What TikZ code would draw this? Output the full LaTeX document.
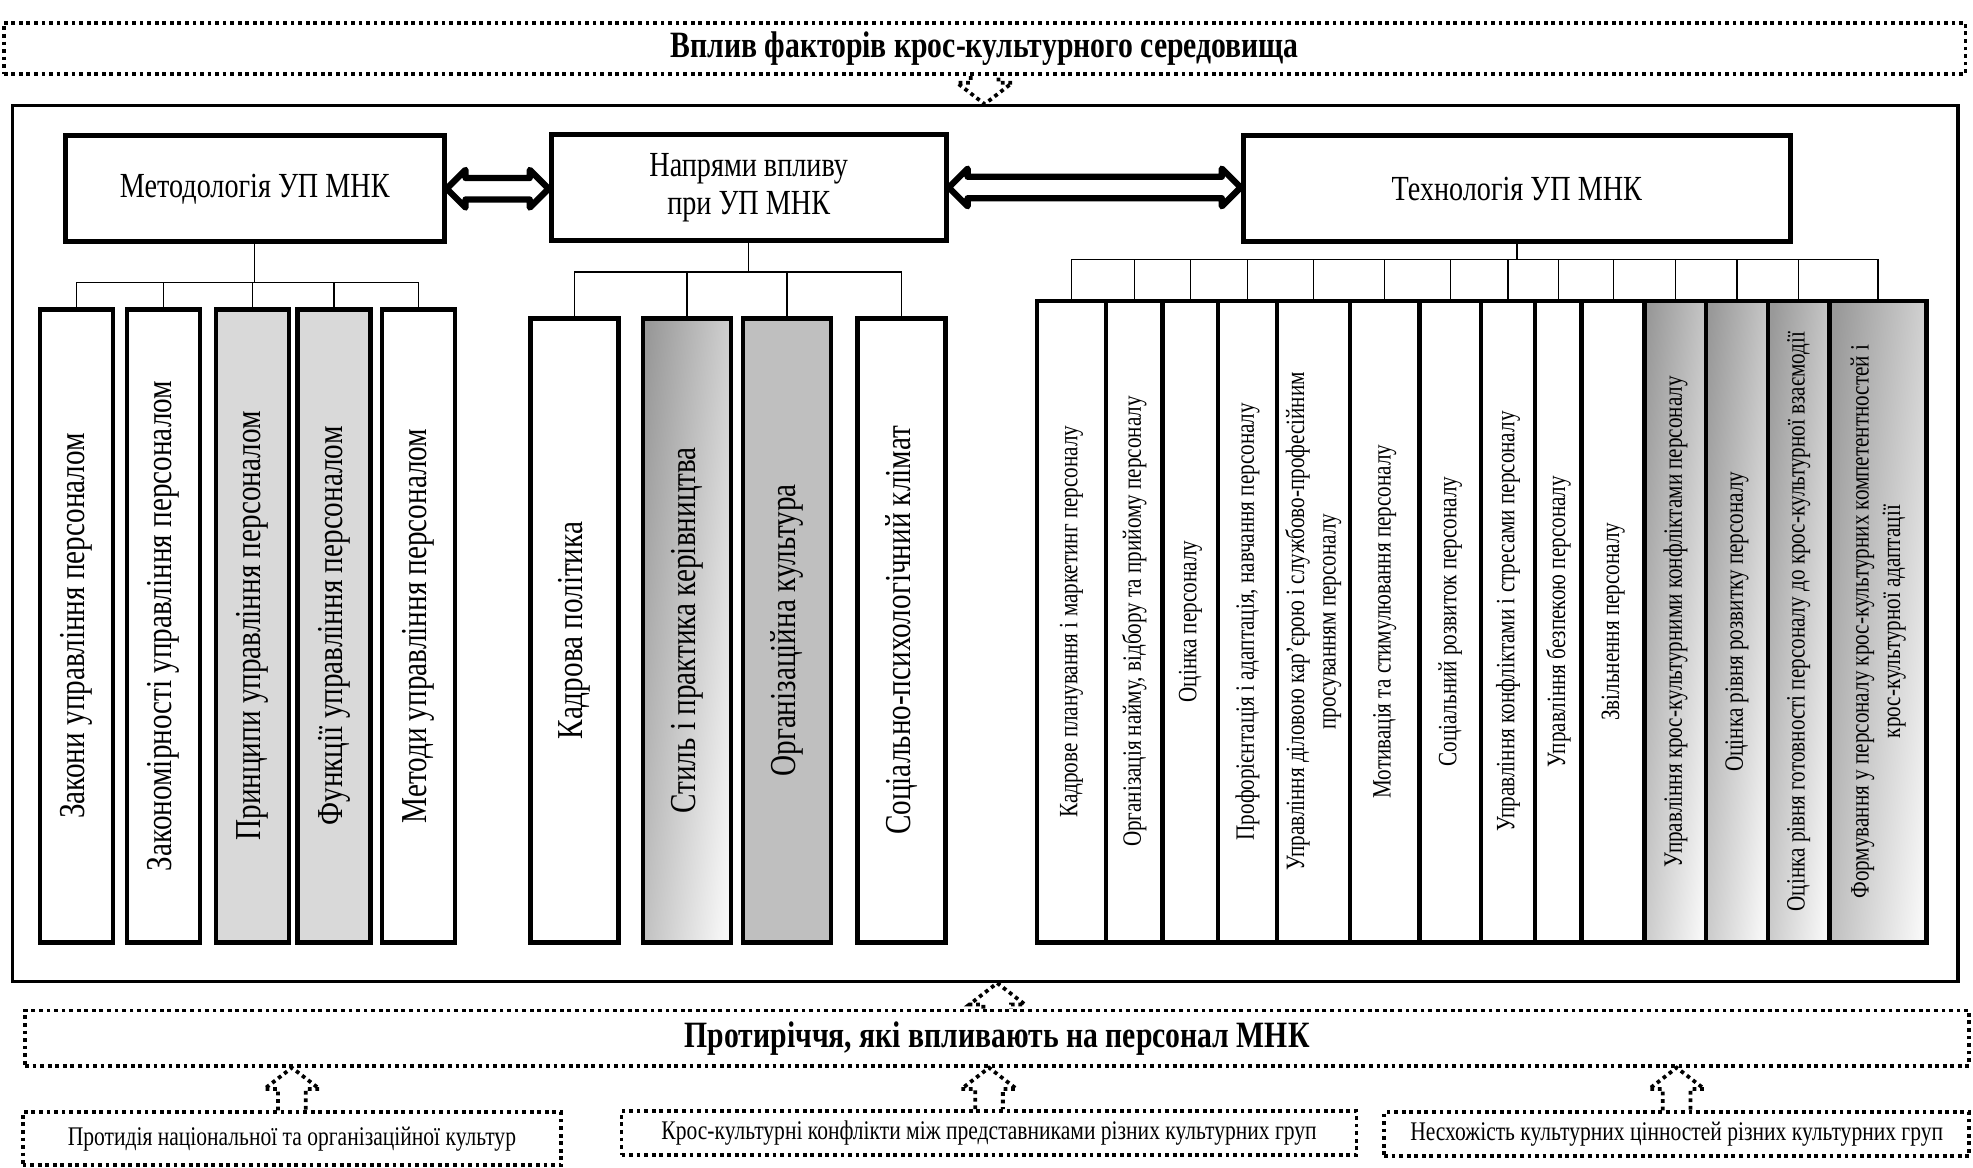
\documentclass[tikz,border=0pt]{standalone}
\usepackage{fontspec}
\setmainfont{Liberation Serif}[FakeStretch=0.8]
\usetikzlibrary{calc}

\tikzset{every picture/.style={line width=1pt}}
\tikzset{
  dotbox/.style={draw, line width=3pt, dash pattern=on 3pt off 3pt, inner sep=0pt},
  dotline/.style={line width=3pt, dash pattern=on 3pt off 3pt},
  headbox/.style={draw, line width=4pt, inner sep=0pt, minimum height=84pt, align=center, font=\fontsize{28}{30}\selectfont},
  colbox/.style={draw, line width=3.5pt, inner sep=0pt, font=\fontsize{29}{34}\selectfont},
  techbox/.style={draw, line width=3.5pt, inner sep=0pt, minimum height=510pt, font=\fontsize{21}{25}\selectfont},
  shadebox/.style={left color=black!40, right color=black!3, shading angle=84},
  twoway/.style={draw, fill=white, line width=5pt, line join=round},
  titlefont/.style={font=\bfseries\fontsize{29.5}{34}\selectfont},
  smallfont/.style={font=\fontsize{21.4}{25}\selectfont}
}
% double arrow between two head boxes: #1 left end, #2 right end
\newcommand{\twowayarrow}[2]{%
  \draw [twoway] (#1) -- ++(15,-15) -- ++(0,6.5) -- ($(#2)+(-15,-8.5)$) -- ++(0,-6.5) -- (#2) -- ++(-15,15) -- ++(0,-6.5) -- ($(#1)+(15,8.5)$) -- ++(0,6.5) -- cycle;}
% dotted hollow arrow: #1 tail, #2 tip, #3 = 1 up, -1 down
\newcommand{\hollowarrow}[3]{%
  \draw [dotline] ($(#1)+(-11,0)$) -- ($(#2)+(-11,#3*17)$) -- ($(#2)+(-22,#3*17)$) -- (#2) -- ($(#2)+(22,#3*17)$) -- ($(#2)+(11,#3*17)$) -- ($(#1)+(11,0)$);}

\begin{document}
\begin{tikzpicture}[x=1pt,y=1pt,yscale=-1,xscale=1]
\useasboundingbox (0,0) rectangle (1568,928);

% outer frames
\node [dotbox, titlefont, minimum width=1559pt, minimum height=41pt] (infl) at (782.5,38.5) {Вплив факторів крос-культурного середовища};
\node [draw, line width=2.5pt, inner sep=0pt, minimum width=1546pt, minimum height=696pt] (frame) at (783,432) {};

% head boxes
\node [headbox, minimum width=301pt] (meth) at (202.5,150) {Методологія УП МНК};
\node [headbox, minimum width=314pt] (napr) at (595,149) {Напрями впливу\\при УП МНК};
\node [headbox, minimum width=435pt] (tech) at (1205.5,150) {Технологія УП МНК};

\twowayarrow{meth.east}{meth.east -| napr.west}
\twowayarrow{napr.east}{napr.east -| tech.west}

% methodology
\node [colbox, minimum width=58pt, minimum height=503pt] (m1) at (61,497.5) {\rotatebox{90}{Закони управління персоналом}};
\node [colbox, minimum width=58pt, minimum height=503pt] (m2) at (130,497.5) {\rotatebox{90}{Закономірності управління персоналом}};
\node [colbox, minimum width=58pt, minimum height=503pt, fill=black!15] (m3) at (200.5,497.5) {\rotatebox{90}{Принципи управління персоналом}};
\node [colbox, minimum width=58pt, minimum height=503pt, fill=black!15] (m4) at (265.5,497.5) {\rotatebox{90}{Функції управління персоналом}};
\node [colbox, minimum width=58pt, minimum height=503pt] (m5) at (332.5,497.5) {\rotatebox{90}{Методи управління персоналом}};

\draw (meth.south) |- ([yshift=-20pt]m1.north) -- (m1.north);
\draw (meth.south) |- ([yshift=-20pt]m2.north) -- (m2.north);
\draw (meth.south) |- ([yshift=-20pt]m3.north) -- (m3.north);
\draw (meth.south) |- ([yshift=-20pt]m4.north) -- (m4.north);
\draw (meth.south) |- ([yshift=-20pt]m5.north) -- (m5.north);

% directions of influence
\node [colbox, minimum width=70pt, minimum height=496pt] (n1) at (456.5,501) {\rotatebox{90}{Кадрова політика}};
\node [colbox, minimum width=70pt, minimum height=496pt, shadebox] (n2) at (546,501) {\rotatebox{90}{Стиль і практика керівництва}};
\node [colbox, minimum width=70pt, minimum height=496pt, fill=black!25] (n3) at (625.5,501) {\rotatebox{90}{Організаційна культура}};
\node [colbox, minimum width=70pt, minimum height=496pt] (n4) at (716.5,501) {\rotatebox{90}{Соціально-психологічний клімат}};

\draw (napr.south) |- ([yshift=-35pt]n1.north) -- (n1.north);
\draw (napr.south) |- ([yshift=-35pt]n2.north) -- (n2.north);
\draw (napr.south) |- ([yshift=-35pt]n3.north) -- (n3.north);
\draw (napr.south) |- ([yshift=-35pt]n4.north) -- (n4.north);

% technology
\node [techbox, minimum width=55pt] (t1) at (851.5,494) {\rotatebox{90}{Кадрове планування і маркетинг персоналу}};
\node [techbox, minimum width=45pt] (t2) at (901.5,494) {\rotatebox{90}{Організація найму, відбору та прийому персоналу}};
\node [techbox, minimum width=44pt] (t3) at (946,494) {\rotatebox{90}{Оцінка персоналу}};
\node [techbox, minimum width=47pt] (t4) at (991.5,494) {\rotatebox{90}{Профорієнтація і адаптація, навчання персоналу}};
\node [techbox, minimum width=58pt] (t5) at (1044,494) {\rotatebox{90}{\begin{tabular}{@{}c@{}}Управління діловою кар'єрою і службово-професійним\\просуванням персоналу\end{tabular}}};
\node [techbox, minimum width=55pt] (t6) at (1100.5,494) {\rotatebox{90}{Мотивація та стимулювання персоналу}};
\node [techbox, minimum width=49pt] (t7) at (1152.5,494) {\rotatebox{90}{Соціальний розвиток персоналу}};
\node [techbox, minimum width=43pt] (t8) at (1198.5,494) {\rotatebox{90}{Управління конфліктами і стресами персоналу}};
\node [techbox, minimum width=37pt] (t9) at (1238.5,494) {\rotatebox{90}{Управління безпекою персоналу}};
\node [techbox, minimum width=50pt] (t10) at (1282,494) {\rotatebox{90}{Звільнення персоналу}};
\node [techbox, minimum width=49pt, shadebox] (t11) at (1331.5,494) {\rotatebox{90}{Управління крос-культурними конфліктами персоналу}};
\node [techbox, minimum width=49pt, shadebox] (t12) at (1380.5,494) {\rotatebox{90}{Оцінка рівня розвитку персоналу}};
\node [techbox, minimum width=49pt, shadebox] (t13) at (1429.5,494) {\rotatebox{90}{Оцінка рівня готовності персоналу до крос-культурної взаємодії}};
\node [techbox, minimum width=77pt, shadebox] (t14) at (1492.5,494) {\rotatebox{90}{\begin{tabular}{@{}c@{}}Формування у персоналу крос-культурних компетентностей і\\крос-культурної адаптації\end{tabular}}};

\draw (tech.south) |- ([yshift=-31pt]t1.north) -- (t1.north);
\draw (tech.south) |- ([yshift=-31pt]t2.north) -- (t2.north);
\draw (tech.south) |- ([yshift=-31pt]t3.north) -- (t3.north);
\draw (tech.south) |- ([yshift=-31pt]t4.north) -- (t4.north);
\draw (tech.south) |- ([yshift=-31pt]t5.north) -- (t5.north);
\draw (tech.south) |- ([yshift=-31pt]t6.north) -- (t6.north);
\draw (tech.south) |- ([yshift=-31pt]t7.north) -- (t7.north);
\draw (tech.south) |- ([yshift=-31pt]t8.north) -- (t8.north);
\draw (tech.south) |- ([yshift=-31pt]t9.north) -- (t9.north);
\draw (tech.south) |- ([yshift=-31pt]t10.north) -- (t10.north);
\draw (tech.south) |- ([yshift=-31pt]t11.north) -- (t11.north);
\draw (tech.south) |- ([yshift=-31pt]t12.north) -- (t12.north);
\draw (tech.south) |- ([yshift=-31pt]t13.north) -- (t13.north);
\draw (tech.south) |- ([yshift=-31pt]t14.north) -- (t14.north);

% contradictions
\node [dotbox, titlefont, minimum width=1545pt, minimum height=44pt] (contra) at (792.5,825) {Протиріччя, які впливають на персонал МНК};
\node [dotbox, smallfont, minimum width=428pt, minimum height=42pt] (b1) at (232,905) {Протидія національної та організаційної культур};
\node [dotbox, smallfont, minimum width=584pt, minimum height=35pt] (b2) at (786,900.5) {Крос-культурні конфлікти між представниками різних культурних груп};
\node [dotbox, smallfont, minimum width=465pt, minimum height=35pt] (b3) at (1332.5,901.5) {Несхожість культурних цінностей різних культурних груп};

\hollowarrow{infl.south}{infl.south |- frame.north}{-1}
\hollowarrow{contra.north}{contra.north |- frame.south}{1}
\hollowarrow{b1.north}{b1.north |- contra.south}{1}
\hollowarrow{b2.north}{b2.north |- contra.south}{1}
\hollowarrow{b3.north}{b3.north |- contra.south}{1}

\end{tikzpicture}
\end{document}
